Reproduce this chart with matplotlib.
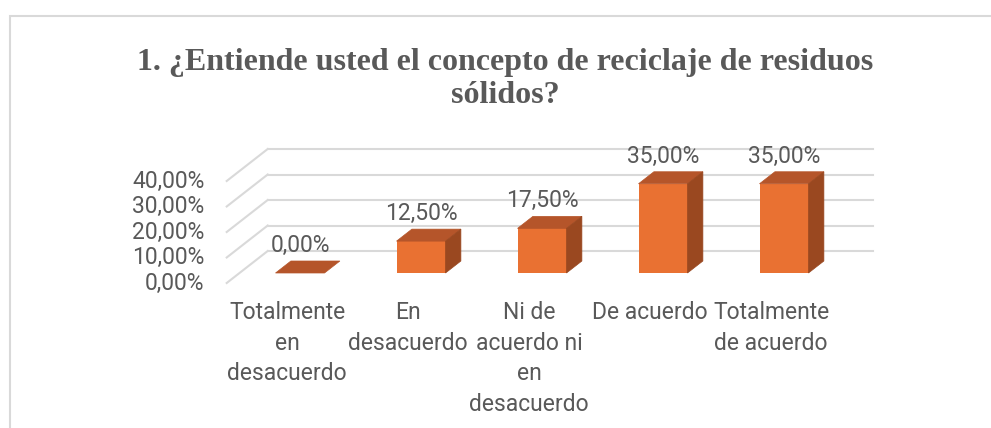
import matplotlib
matplotlib.use("Agg")
import matplotlib.pyplot as plt
from matplotlib.patches import Polygon, Rectangle
from matplotlib.lines import Line2D

# ---- data ----
title = "1. ¿Entiende usted el concepto de reciclaje de residuos\nsólidos?"
categories = ["Totalmente\nen\ndesacuerdo", "En\ndesacuerdo",
              "Ni de\nacuerdo ni\nen\ndesacuerdo", "De acuerdo",
              "Totalmente\nde acuerdo"]
values = [0.0, 12.5, 17.5, 35.0, 35.0]          # percent
ticks = [0, 10, 20, 30, 40]

def fmt(v):
    return f"{v:.2f}".replace(".", ",") + "%"

# ---- style / layout ----
W, H, DPI = 991, 428, 100
PX0, PXS = 287.2, 121.0      # pixel x of category 0 (front plane), px per category
PY0, PYS = 283.0, 2.55       # pixel y of 0% (front plane), px per percent
DX, DY = 41.0 / PXS, 32.0 / PYS   # full depth vector in data units
D_FRONT, D_BACK = 0.3125, 0.6875   # bar depth fractions
BW = 49.0 / PXS
FRONT, TOP, SIDE = "#E97132", "#B5552A", "#9A4820"
GRID = "#D9D9D9"
TXT = "#595959"
SANS = ["Roboto", "DejaVu Sans"]
FS = 16.5

fig = plt.figure(figsize=(W / DPI, H / DPI), dpi=DPI)
ax = fig.add_axes([0, 0, 1, 1])
ax.set_xlim(-PX0 / PXS, (W - PX0) / PXS)
ax.set_ylim((PY0 - H) / PYS, PY0 / PYS)
ax.axis("off")

# chart border (left and top)
fig.patches.append(Rectangle((10 / W, -0.1), 1.2, (H - 16) / H + 0.1,
                             transform=fig.transFigure, fill=False,
                             edgecolor="#D9D9D9", lw=1.5))

# gridlines: left wall diagonals + back wall horizontals
xl, xr = -0.5, len(categories) - 0.5
for g in ticks:
    ax.add_line(Line2D([xl, xl + DX], [g, g + DY], color=GRID, lw=1.5, zorder=1))
    ax.add_line(Line2D([xl + DX, xr + DX], [g + DY, g + DY], color=GRID, lw=1.5, zorder=1))
    ax.text(xl - 22 / PXS, g, fmt(g), ha="right", va="center",
            fontsize=FS, color=TXT, family=SANS)

# bars
dd = D_BACK - D_FRONT
for i, v in enumerate(values):
    x0 = i + D_FRONT * DX - BW / 2
    x1 = x0 + BW
    base = D_FRONT * DY
    top = base + v
    ax.bar(x0 + BW / 2, v, width=BW, bottom=base, color=FRONT, zorder=3)
    ax.add_patch(Polygon([(x0, top), (x1, top), (x1 + dd * DX, top + dd * DY),
                          (x0 + dd * DX, top + dd * DY)], closed=True,
                         facecolor=TOP, edgecolor=TOP, lw=0.5, zorder=4))
    if v > 0:
        ax.add_patch(Polygon([(x1, base), (x1, top), (x1 + dd * DX, top + dd * DY),
                              (x1 + dd * DX, base + dd * DY)], closed=True,
                             facecolor=SIDE, edgecolor=SIDE, lw=0.5, zorder=4))
    ax.annotate(fmt(v), xy=(i + D_FRONT * DX, top + dd * DY), xytext=(0, 3),
                textcoords="offset points", ha="center", va="bottom",
                fontsize=FS, color=TXT, family=SANS, zorder=5)

# category labels
for i, c in enumerate(categories):
    ax.text(i, -18 / PYS, c, ha="center", va="top", multialignment="center",
            fontsize=FS, color=TXT, family=SANS, linespacing=1.43)

# title
fig.text(505 / W, 1 - 79 / H, title, ha="center", va="center",
         fontsize=23, fontweight="bold", family=["Liberation Serif", "DejaVu Serif"],
         color=TXT, linespacing=1.2)

fig.savefig("out.png", dpi=DPI)
